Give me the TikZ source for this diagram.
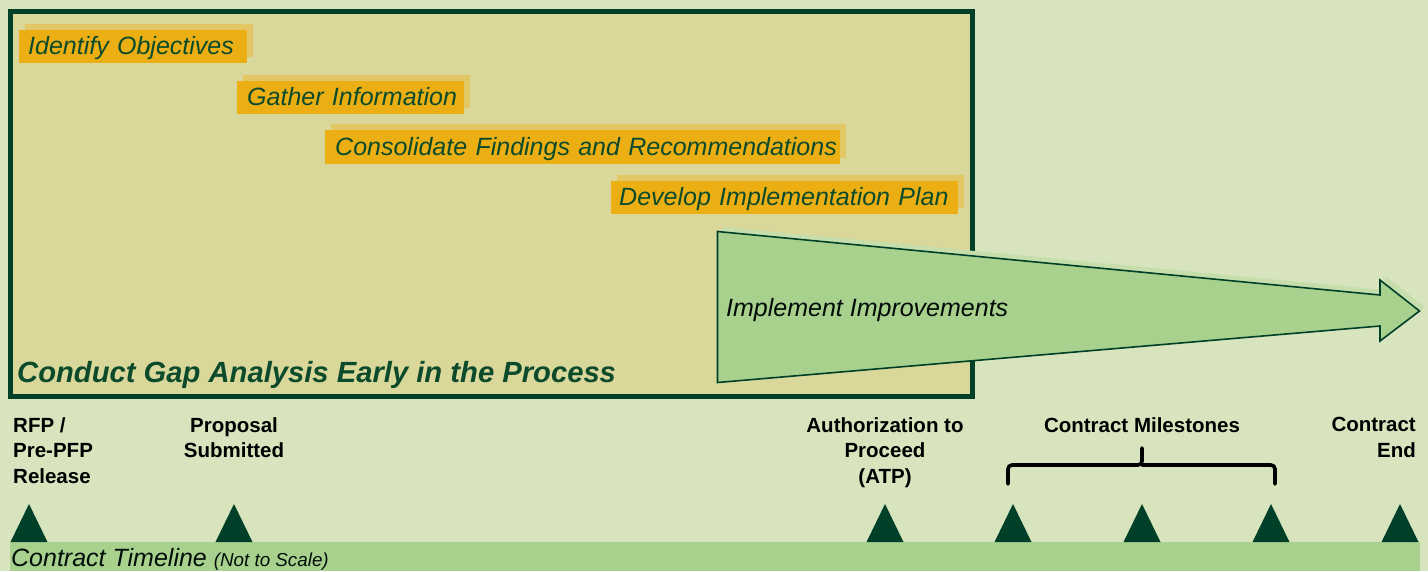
\documentclass[tikz,border=0pt]{standalone}
\usepackage{fontspec}
\setmainfont{Liberation Sans}
\usetikzlibrary{shadows}
\definecolor{bgc}{RGB}{215,228,189}
\definecolor{boxc}{RGB}{217,216,154}
\definecolor{dkg}{RGB}{0,64,40}
\definecolor{orng}{RGB}{235,175,19}
\definecolor{shd}{RGB}{226,199,100}
\definecolor{arrc}{RGB}{169,209,142}
\definecolor{arrs}{RGB}{197,222,172}
\definecolor{txtg}{RGB}{12,74,44}
\tikzset{
  steplabel/.style={anchor=north west, fill=orng, inner xsep=9pt, inner ysep=0pt,
    minimum height=33pt, text height=18pt, text depth=2.4pt, align=left, text=txtg,
    font=\fontsize{25}{28}\selectfont\itshape,
    general shadow={fill=shd, shadow xshift=6pt, shadow yshift=6pt}},
  milestone/.style={fill=dkg, draw=none},
  mlabel/.style={font=\fontsize{20.5}{25.5}\selectfont\bfseries, text=black, inner sep=0pt}
}
\begin{document}
\begin{tikzpicture}[x=1pt,y=-1pt]
\useasboundingbox (0,0) rectangle (1428,571);
\fill[bgc] (0,0) rectangle (1428,571);
% main box
\draw[dkg, line width=5pt, fill=boxc] (10.5,11.5) rectangle (972.5,396.5);
% step labels
\node[steplabel, text width=210pt] (s1) at (19,30) {\mbox{Identify Objectives}};
\node[steplabel, text width=207pt, inner xsep=10pt] (s2) at (237,81) {\mbox{Gather Information}};
\node[steplabel, text width=495pt, inner xsep=10pt, minimum height=34pt] (s3) at (325,130) {\mbox{Consolidate Findings and Recommendations}};
\node[steplabel, text width=331pt, inner xsep=8pt] (s4) at (611,181) {\mbox{Develop Implementation Plan}};
% arrow shadow
\fill[arrs] (722,227) -- (1385,290) -- (1385,276) -- (1425,307) -- (1385,338) -- (1385,322) -- (722,379) -- cycle;
% arrow
\draw[dkg, line width=1.6pt, fill=arrc, line join=miter] (717.5,231.5) -- (1380,295) -- (1380,280) -- (1419.5,311) -- (1380,341) -- (1380,326) -- (717.5,382.5) -- cycle;
\node[anchor=west, inner sep=0pt, font=\fontsize{25}{28}\selectfont\itshape, text=black!85!dkg] (impl) at (726,310) {Implement Improvements};
% title
\node[anchor=west, inner sep=0pt, font=\fontsize{29.2}{32}\selectfont\bfseries\itshape, text=txtg] (title) at (17,375) {Conduct Gap Analysis Early in the Process};
% timeline bar
\fill[arrc] (10,542) rectangle (1420,571);
\node[anchor=west, inner sep=0pt, text=black!80!dkg] (tl) at (11,559) {\fontsize{25}{27}\selectfont\itshape Contract Timeline \fontsize{18.8}{20}\selectfont(Not to Scale)};
% milestones
\foreach \n/\x in {m1/29, m2/234, m3/885, m4/1013, m5/1142, m6/1271, m7/1400}{
  \fill[milestone] (\x-18.5,542) -- (\x,504) -- (\x+18.5,542) -- cycle;
  \coordinate (\n) at (\x,504);
}
% milestone labels
\node[mlabel, anchor=north west, align=left] (l1) at (13,417) {RFP /\\Pre-PFP\\Release};
\node[mlabel, anchor=north, align=center] (l2) at (234,417) {Proposal\\Submitted};
\node[mlabel, anchor=north, align=center] (l3) at (885,417) {Authorization to\\Proceed\\(ATP)};
\node[mlabel, anchor=north, align=center] (l4) at (1142,417) {Contract Milestones};
\node[mlabel, anchor=north east, align=right] (l5) at (1416,417) {Contract\\End};
% brace
\draw[black, line width=3.6pt, line cap=round, rounded corners=4pt]
  (1008,484) -- (1008,465) -- (1142,465) -- (1142,448);
\draw[black, line width=3.6pt, line cap=round, rounded corners=4pt]
  (1275,484) -- (1275,465) -- (1142,465);
\end{tikzpicture}
\end{document}
